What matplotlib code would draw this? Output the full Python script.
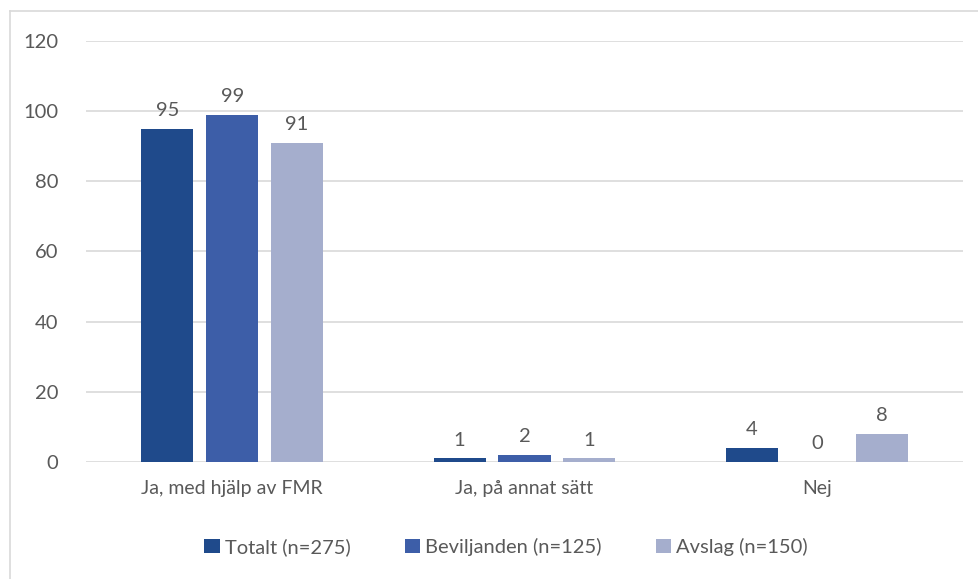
import numpy as np
import matplotlib.pyplot as plt
from matplotlib.lines import Line2D

# data
categories = ["Ja, med hjälp av FMR", "Ja, på annat sätt", "Nej"]
series_names = ["Totalt (n=275)", "Beviljanden (n=125)", "Avslag (n=150)"]
totalt = [95, 1, 4]
beviljanden = [99, 2, 0]
avslag = [91, 1, 8]
y_ticks = [0, 20, 40, 60, 80, 100, 120]

colors = ["#1F4A8B", "#3D5EA8", "#A5AECD"]
text_col = "#595959"

plt.rcParams["font.family"] = ["Lato", "DejaVu Sans"]

fig = plt.figure(figsize=(9.79, 5.79), dpi=100)
ax = fig.add_axes([0.0878, 0.2021, 0.8959, 0.7271])

x = np.arange(len(categories))
width = 0.178
step = 0.222
all_series = [totalt, beviljanden, avslag]
for i, vals in enumerate(all_series):
    pos = x + (i - 1) * step
    bars = ax.bar(pos, vals, width, color=colors[i], label=series_names[i], zorder=3)
    for b, v in zip(bars, vals):
        ax.annotate(str(v), (b.get_x() + b.get_width() / 2, v),
                    xytext=(0, 7), textcoords="offset points",
                    ha="center", va="bottom", fontsize=14.5, color=text_col)

ax.set_xlim(-0.5, 2.5)
ax.set_ylim(0, 120)
ax.set_yticks(y_ticks)
ax.set_xticks(x)
ax.set_xticklabels(categories, fontsize=14)
ax.tick_params(axis="y", length=0, labelsize=14.5, colors=text_col, pad=20)
ax.tick_params(axis="x", length=0, colors=text_col, pad=13)
ax.grid(axis="y", color="#D9D9D9", linewidth=1.2, zorder=0)
for s in ax.spines.values():
    s.set_visible(False)

# outer chart frame (only left and top edges show)
fig.add_artist(Line2D([9.5 / 979, 9.5 / 979], [0, 1 - 11 / 579], color="#D9D9D9", lw=1.2))
fig.add_artist(Line2D([9.5 / 979, 1], [1 - 11 / 579, 1 - 11 / 579], color="#D9D9D9", lw=1.2))

leg = fig.legend(loc="center", bbox_to_anchor=(506 / 979, 1 - 547 / 579), ncol=3,
                 frameon=False, fontsize=14.5, handlelength=0.75, handleheight=0.75,
                 handletextpad=0.25, columnspacing=2.7)
for t in leg.get_texts():
    t.set_color(text_col)

fig.savefig("out.png", dpi=100)
